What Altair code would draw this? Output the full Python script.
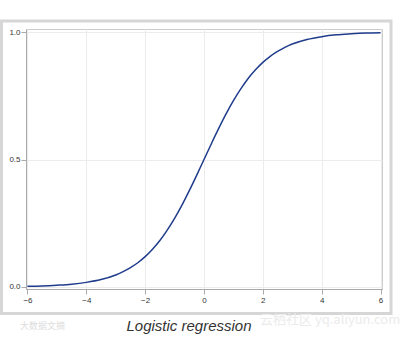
import altair as alt
import pandas as pd

# Values
x_vals = [-6, -5.5, -5, -4.5, -4, -3.5, -3, -2.75, -2.5, -2.25, -2, -1.75,
          -1.5, -1.25, -1, -0.75, -0.5, -0.25, 0, 0.25, 0.5, 0.75, 1, 1.25,
          1.5, 1.75, 2, 2.25, 2.5, 2.75, 3, 3.5, 4, 4.5, 5, 5.5, 6]
y_vals = [0.0025, 0.004, 0.007, 0.011, 0.018, 0.029, 0.047, 0.060, 0.076,
          0.095, 0.119, 0.148, 0.182, 0.223, 0.269, 0.321, 0.378, 0.438,
          0.5, 0.562, 0.622, 0.679, 0.731, 0.777, 0.818, 0.852, 0.881,
          0.905, 0.924, 0.940, 0.953, 0.971, 0.982, 0.989, 0.993, 0.996,
          0.9975]
x_ticks = [-6, -4, -2, 0, 2, 4, 6]
y_ticks = [0.0, 0.5, 1.0]
title_text = "Logistic regression"
watermark_right = "云栖社区 yq.aliyun.com"
watermark_left = "大数据文摘"

df = pd.DataFrame({"x": x_vals, "y": y_vals})
one = pd.DataFrame({"k": [0]})

FONT = "Liberation Sans"

line = alt.Chart(df).mark_line(
    color="#1f3c8c", strokeWidth=1.5, interpolate="monotone"
).encode(
    x=alt.X("x:Q", scale=alt.Scale(domain=[-6.05, 6.05], nice=False, zero=False),
            axis=alt.Axis(values=x_ticks, format="d", title=None, grid=True,
                          gridColor="#ececec", domainColor="#aaaaaa",
                          tickColor="#aaaaaa", tickSize=5, labelPadding=2,
                          labelFontSize=8, labelColor="#333333", labelFont=FONT)),
    y=alt.Y("y:Q", scale=alt.Scale(domain=[-0.008, 1.012], nice=False, zero=False),
            axis=alt.Axis(values=y_ticks, format=".1f", title=None, grid=True,
                          gridColor="#ececec", domainColor="#aaaaaa",
                          tickColor="#aaaaaa", tickSize=5, labelPadding=1,
                          labelFontSize=8, labelColor="#333333", labelFont=FONT)),
)

frame = alt.Chart(one).mark_rect(
    fill=None, stroke="#d6d6d6", strokeWidth=3, clip=False
).encode(
    x=alt.value(-24.5), x2=alt.value(365),
    y=alt.value(-8), y2=alt.value(284.5),
)

title = alt.Chart(one).mark_text(
    text=title_text, font=FONT, fontSize=15, fontStyle="italic",
    color="#333333", align="center", baseline="alphabetic"
).encode(x=alt.value(163), y=alt.value(302))

wm_right = alt.Chart(one).mark_text(
    text=watermark_right, font="Noto Sans CJK SC", fontSize=13,
    color="#ebebeb", align="left", baseline="middle"
).encode(x=alt.value(234), y=alt.value(291))

wm_left = alt.Chart(one).mark_text(
    text=watermark_left, font="Noto Sans CJK SC", fontSize=9,
    color="#dddddd", align="left", baseline="middle"
).encode(x=alt.value(-6), y=alt.value(297))

chart = alt.layer(frame, line, title, wm_right, wm_left).properties(
    width=356, height=260,
    autosize=alt.AutoSizeParams(type="none"),
    padding={"left": 26, "top": 29, "right": 21, "bottom": 48},
    background="white",
).configure_view(stroke="#cccccc", strokeWidth=1)

chart.save("out.html", embed_options={"renderer": "svg", "actions": False})
